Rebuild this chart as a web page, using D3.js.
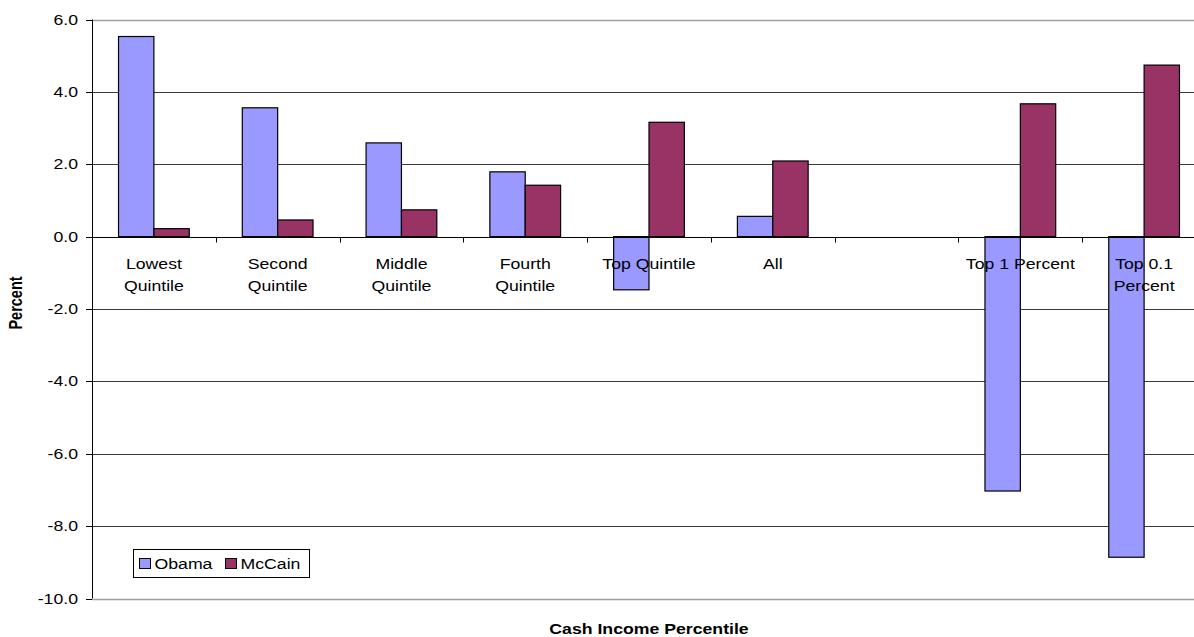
<!DOCTYPE html>
<html>
<head>
<meta charset="utf-8">
<script src="https://cdn.jsdelivr.net/npm/d3@7"></script>
<style>
    body { margin: 0; background: #fff; }
    text { font-family: "Liberation Sans", Arial, sans-serif; fill: #000; }
</style>
</head>
<body>
<svg id="chart" width="1194" height="637"></svg>
<script>
// data
var categories = ["Lowest Quintile", "Second Quintile", "Middle Quintile", "Fourth Quintile",
    "Top Quintile", "All", "", "Top 1 Percent", "Top 0.1 Percent"];
var categoryLines = [["Lowest", "Quintile"], ["Second", "Quintile"], ["Middle", "Quintile"],
    ["Fourth", "Quintile"], ["Top Quintile"], ["All"], [], ["Top 1 Percent"], ["Top 0.1", "Percent"]];
var series = ["Obama", "McCain"];
var obama = [5.53, 3.56, 2.59, 1.79, -1.47, 0.56, null, -7.03, -8.86];
var mccain = [0.22, 0.46, 0.74, 1.42, 3.16, 2.09, null, 3.67, 4.74];
var yTicks = [6, 4, 2, 0, -2, -4, -6, -8, -10];
var colors = { "Obama": "#9999ff", "McCain": "#993366" };

var stretch = 1.22; // the picture is wider than its fonts
var svg = d3.select("#chart");

var x = d3.scaleBand().domain(categories.map(function (d, i) { return i; }))
    .range([92, 1206]).paddingInner(0).paddingOuter(0);
var xs = d3.scaleBand().domain(series).range([0, x.bandwidth()]).paddingInner(0).paddingOuter(0.75);
var y = d3.scaleLinear().domain([-10, 6]).range([598.5, 19.5]);

// puts a text at (px,py) with the horizontal stretch
function label(parent, px, py, str, opts) {
    opts = opts || {};
    var g = parent.append("g")
        .attr("transform", "translate(" + px + "," + py + ") scale(" + stretch + ",1)" + (opts.rotate ? " rotate(" + opts.rotate + ")" : ""));
    return g.append("text")
        .text(str)
        .attr("text-anchor", opts.anchor || "middle")
        .attr("font-size", opts.size || 14.5)
        .attr("font-weight", opts.bold ? "bold" : "normal");
}

// gridlines
svg.append("g").selectAll("line")
    .data(yTicks)
    .enter()
    .append("line")
    .attr("x1", 92).attr("x2", 1194)
    .attr("y1", function (d) { return Math.round(y(d)) + 0.5; })
    .attr("y2", function (d) { return Math.round(y(d)) + 0.5; })
    .attr("stroke", function (d) { return (d === 6 || d === -10) ? "#a0a0a0" : "#3a3a3a"; })
    .attr("stroke-width", function (d) { return (d === 6 || d === -10) ? 1.5 : 1; });

// bars
var data = [];
categories.forEach(function (c, i) {
    if (obama[i] !== null) { data.push({ i: i, s: "Obama", v: obama[i] }); }
    if (mccain[i] !== null) { data.push({ i: i, s: "McCain", v: mccain[i] }); }
});

svg.append("g").selectAll("rect")
    .data(data)
    .enter()
    .append("rect")
    .attr("x", function (d) { return x(d.i) + xs(d.s); })
    .attr("width", xs.bandwidth())
    .attr("y", function (d) { return y(Math.max(0, d.v)); })
    .attr("height", function (d) { return Math.abs(y(d.v) - y(0)); })
    .attr("fill", function (d) { return colors[d.s]; })
    .attr("stroke", "#000")
    .attr("stroke-width", 1.2);

// axes
var y0 = Math.round(y(0)) + 0.5;
svg.append("line").attr("x1", 92).attr("x2", 1194).attr("y1", y0).attr("y2", y0).attr("stroke", "#000");
svg.append("line").attr("x1", 92.5).attr("x2", 92.5).attr("y1", y(6)).attr("y2", y(-10)).attr("stroke", "#000");

svg.append("g").selectAll("line")
    .data(categories.map(function (d, i) { return i; }).slice(1))
    .enter()
    .append("line")
    .attr("x1", function (d) { return Math.round(x(d)) + 0.5; })
    .attr("x2", function (d) { return Math.round(x(d)) + 0.5; })
    .attr("y1", y0).attr("y2", y0 + 5)
    .attr("stroke", "#000");

svg.append("g").selectAll("line")
    .data(yTicks)
    .enter()
    .append("line")
    .attr("x1", 86).attr("x2", 92)
    .attr("y1", function (d) { return Math.round(y(d)) + 0.5; })
    .attr("y2", function (d) { return Math.round(y(d)) + 0.5; })
    .attr("stroke", "#000");

yTicks.forEach(function (t) {
    label(svg, 78, y(t) + 5, t.toFixed(1), { anchor: "end" });
});

categoryLines.forEach(function (lines, i) {
    lines.forEach(function (ln, k) {
        label(svg, x(i) + x.bandwidth() / 2, 269 + k * 22, ln);
    });
});

// axis titles
label(svg, 22, 303, "Percent", { bold: true, rotate: -90 });
label(svg, 649, 634, "Cash Income Percentile", { bold: true });

// legend
var leg = svg.append("g");
leg.append("rect").attr("x", 133.5).attr("y", 549.5).attr("width", 176).attr("height", 28)
    .attr("fill", "#fff").attr("stroke", "#000");
var legX = [139.5, 225.5];
series.forEach(function (s, k) {
    leg.append("rect").attr("x", legX[k]).attr("y", 558.5).attr("width", 11).attr("height", 10)
        .attr("fill", colors[s]).attr("stroke", "#000");
    label(leg, legX[k] + 15, 569, s, { anchor: "start" });
});
</script>
</body>
</html>
